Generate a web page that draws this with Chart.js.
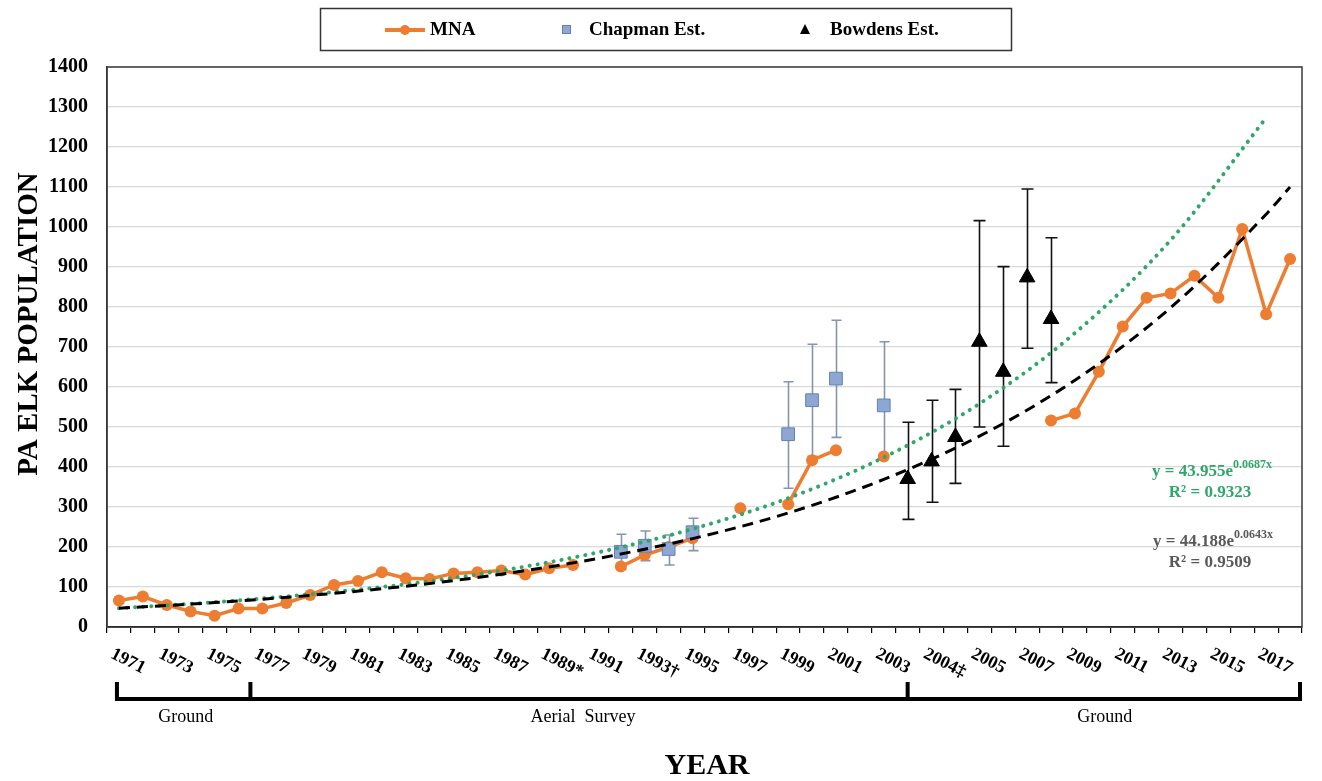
<!DOCTYPE html>
<html>
<head>
<meta charset="utf-8">
<script src="https://cdn.jsdelivr.net/npm/chart.js@4.4.1/dist/chart.umd.min.js"></script>
<style>
  html, body { margin: 0; padding: 0; background: #fff; }
  #wrap { width: 1322px; height: 781px; }
</style>
</head>
<body>
<div id="wrap"><canvas id="elkChart" width="1322" height="781"></canvas></div>
<script>
// labels shown under every other category
const yearLabels = ['1971', '1973', '1975', '1977', '1979', '1981', '1983', '1985', '1987', '1989*',
  '1991', '1993\u2020', '1995', '1997', '1999', '2001', '2003', '2004\u2021', '2005', '2007',
  '2009', '2011', '2013', '2015', '2017'];

// MNA, one value per category (null = no count)
const mna = [66, 76, 55, 39, 28, 46, 46, 60, 80, 105,
  115, 137, 122, 120, 134, 137, 141, 131, 147, 155,
  null, 151, 180, 200, 222, null, 297, null, 307, 417,
  442, null, 426, null, null, null, null, null, null, 516,
  534, 638, 751, 823, 834, 878, 823, 995, 782, 920];

const chapIdx = [21, 22, 23, 24, 28, 29, 30, 32];
const chapEst = [188, 203, 195, 237, 482, 567, 621, 554];
const chapLow = [144, 166, 155, 191, 347, 427, 474, 430];
const chapHigh = [232, 240, 230, 272, 613, 707, 767, 713];

const bowIdx = [33, 34, 35, 36, 37, 38, 39];
const bowEst = [370, 414, 475, 713, 638, 874, 770];
const bowLow = [269, 312, 359, 500, 452, 697, 611];
const bowHigh = [512, 567, 594, 1016, 901, 1095, 973];

// trend lines read at every 4th category
const trendIdx = [0, 4, 8, 12, 16, 20, 24, 28, 32, 36, 40, 44, 48];
const greenTrend = [47, 62, 82, 107, 141, 186, 245, 322, 424, 558, 735, 967, 1273];
const blackTrendIdx = [0, 4, 8, 12, 16, 20, 24, 28, 32, 36, 40, 44, 48, 49];
const blackTrend = [47, 61, 79, 102, 132, 171, 221, 285, 369, 477, 617, 798, 1032, 1100];

const yTicks = { min: 0, max: 1400, step: 100 };

const SERIF = '"Liberation Serif", "Times New Roman", serif';
const ORANGE = '#ED7D31';
const GREEN = '#2FA66A';

const cats = [];
yearLabels.forEach(l => { cats.push(l); cats.push(''); });

const spread = (idx, vals) => {
  const out = new Array(cats.length).fill(null);
  idx.forEach((k, j) => { out[k] = vals[j]; });
  return out;
};
const pts = (idx, vals) => idx.map((k, j) => ({ x: k, y: vals[j] }));

const errorBars = (chart, idx, low, high, color, cap) => {
  const { ctx } = chart;
  const xs = chart.scales.x, ys = chart.scales.y;
  ctx.save();
  ctx.strokeStyle = color;
  ctx.lineWidth = 1.6;
  idx.forEach((k, j) => {
    const x = Math.round(xs.getPixelForValue(k)) + 0.5;
    const y1 = ys.getPixelForValue(low[j]), y2 = ys.getPixelForValue(high[j]);
    ctx.beginPath();
    ctx.moveTo(x, y1); ctx.lineTo(x, y2);
    ctx.moveTo(x - cap, y1); ctx.lineTo(x + cap, y1);
    ctx.moveTo(x - cap, y2); ctx.lineTo(x + cap, y2);
    ctx.stroke();
  });
  ctx.restore();
};

const supText = (ctx, base, sup, cx, y, color) => {
  ctx.font = 'bold 17px ' + SERIF;
  const w1 = ctx.measureText(base).width;
  ctx.font = 'bold 12px ' + SERIF;
  const w2 = ctx.measureText(sup).width;
  const x0 = cx - (w1 + w2) / 2;
  ctx.fillStyle = color;
  ctx.textAlign = 'left';
  ctx.textBaseline = 'alphabetic';
  ctx.font = 'bold 17px ' + SERIF;
  ctx.fillText(base, x0, y);
  ctx.font = 'bold 12px ' + SERIF;
  ctx.fillText(sup, x0 + w1, y - 8);
};

const overlay = {
  id: 'overlay',
  beforeDatasetsDraw(chart) {
    errorBars(chart, chapIdx, chapLow, chapHigh, '#8595AD', 5);
    errorBars(chart, bowIdx, bowLow, bowHigh, '#111', 6);
  },
  afterDraw(chart) {
    const { ctx, chartArea: a } = chart;
    const xs = chart.scales.x;
    ctx.save();

    // plot border
    ctx.strokeStyle = '#3a3a3a';
    ctx.lineWidth = 1.5;
    ctx.strokeRect(a.left, a.top, a.right - a.left, a.bottom - a.top);

    // rotated year labels
    ctx.fillStyle = '#000';
    ctx.font = 'bold 18px ' + SERIF;
    ctx.textAlign = 'left';
    ctx.textBaseline = 'middle';
    yearLabels.forEach((t, j) => {
      const x = xs.getPixelForValue(j * 2) - 7;
      ctx.save();
      ctx.translate(x, 653);
      ctx.rotate(27 * Math.PI / 180);
      ctx.fillText(t, 0, 0);
      ctx.restore();
    });

    // survey method brackets
    const bx = [xs.getPixelForValue(0) - 2,
      (xs.getPixelForValue(5) + xs.getPixelForValue(6)) / 2,
      xs.getPixelForValue(33),
      a.right - 2];
    ctx.strokeStyle = '#000';
    ctx.lineWidth = 4;
    ctx.beginPath();
    ctx.moveTo(bx[0], 699); ctx.lineTo(bx[3], 699);
    bx.forEach(x => { ctx.moveTo(x, 682); ctx.lineTo(x, 701); });
    ctx.stroke();
    ctx.font = '18px ' + SERIF;
    ctx.textAlign = 'center';
    ctx.fillText('Ground', (bx[0] + bx[1]) / 2 + 2, 717);
    ctx.fillText('Aerial  Survey', (bx[1] + bx[2]) / 2 + 4, 717);
    ctx.fillText('Ground', (bx[2] + bx[3]) / 2 + 1, 717);

    // axis titles
    ctx.font = 'bold 30px ' + SERIF;
    ctx.fillText('YEAR', 707, 766);
    ctx.save();
    ctx.translate(30, 324);
    ctx.rotate(-Math.PI / 2);
    ctx.font = 'bold 29px ' + SERIF;
    ctx.fillText('PA ELK POPULATION', 0, 0);
    ctx.restore();

    // trend equations
    supText(ctx, 'y = 43.955e', '0.0687x', 1212, 476, GREEN);
    ctx.font = 'bold 17px ' + SERIF;
    ctx.textAlign = 'center';
    ctx.fillText('R\u00b2 = 0.9323', 1210, 497);
    supText(ctx, 'y = 44.188e', '0.0643x', 1213, 546, '#595959');
    ctx.font = 'bold 17px ' + SERIF;
    ctx.textAlign = 'center';
    ctx.fillText('R\u00b2 = 0.9509', 1210, 567);

    // legend
    ctx.strokeStyle = '#333';
    ctx.lineWidth = 1.5;
    ctx.strokeRect(320.5, 8.5, 691, 42);
    ctx.strokeStyle = ORANGE;
    ctx.lineWidth = 4;
    ctx.beginPath(); ctx.moveTo(385, 30); ctx.lineTo(425, 30); ctx.stroke();
    ctx.fillStyle = ORANGE;
    ctx.beginPath(); ctx.arc(405, 30, 5, 0, Math.PI * 2); ctx.fill();
    ctx.fillStyle = '#8EA6D2';
    ctx.strokeStyle = '#6381B8';
    ctx.lineWidth = 1;
    ctx.fillRect(562, 25, 9, 9);
    ctx.strokeRect(562.5, 25.5, 8, 8);
    ctx.fillStyle = '#000';
    ctx.beginPath(); ctx.moveTo(805, 24); ctx.lineTo(810, 34); ctx.lineTo(800, 34); ctx.closePath(); ctx.fill();
    ctx.font = 'bold 19px ' + SERIF;
    ctx.textAlign = 'left';
    ctx.textBaseline = 'middle';
    ctx.fillText('MNA', 430, 30);
    ctx.fillText('Chapman Est.', 589, 30);
    ctx.fillText('Bowdens Est.', 830, 30);

    ctx.restore();
  }
};

new Chart(document.getElementById('elkChart'), {
  type: 'line',
  data: {
    labels: cats,
    datasets: [
      {
        label: 'MNA',
        data: mna,
        borderColor: ORANGE,
        backgroundColor: ORANGE,
        borderWidth: 3.5,
        pointRadius: 6,
        pointBorderWidth: 0,
        spanGaps: false,
        tension: 0,
        order: 4
      },
      {
        label: 'Chapman Est.',
        data: spread(chapIdx, chapEst),
        showLine: false,
        pointStyle: 'rect',
        pointRadius: 9,
        backgroundColor: '#8EA6D2',
        borderColor: '#6381B8',
        borderWidth: 1,
        order: 3
      },
      {
        label: 'Bowdens Est.',
        data: spread(bowIdx, bowEst),
        showLine: false,
        pointStyle: 'triangle',
        pointRadius: 9,
        backgroundColor: '#000',
        borderColor: '#000',
        borderWidth: 1,
        order: 2
      },
      {
        label: 'Expon. (Chapman/Bowdens)',
        xAxisID: 'xt',
        data: pts(trendIdx, greenTrend),
        borderColor: GREEN,
        borderWidth: 4,
        borderDash: [0.1, 8],
        borderCapStyle: 'round',
        pointRadius: 0,
        cubicInterpolationMode: 'monotone',
        order: 1
      },
      {
        label: 'Expon. (MNA)',
        xAxisID: 'xt',
        data: pts(blackTrendIdx, blackTrend),
        borderColor: '#000',
        borderWidth: 3,
        borderDash: [11, 7],
        pointRadius: 0,
        cubicInterpolationMode: 'monotone',
        order: 0
      }
    ]
  },
  options: {
    responsive: false,
    animation: false,
    layout: { padding: { top: 67, right: 20, left: 0, bottom: 0 } },
    plugins: { legend: { display: false }, tooltip: { enabled: false } },
    scales: {
      x: {
        type: 'category',
        offset: true,
        afterFit: s => { s.height = 154; },
        grid: { offset: true, drawOnChartArea: false, drawTicks: true, tickLength: 6, color: '#000', lineWidth: 1.2 },
        border: { display: true, color: '#000', width: 1.5 },
        ticks: { display: false }
      },
      xt: {
        type: 'linear',
        display: false,
        min: -0.5,
        max: cats.length - 0.5
      },
      y: {
        min: yTicks.min,
        max: yTicks.max,
        afterFit: s => { s.width = 107; },
        grid: { color: '#D9D9D9', lineWidth: 1.2, drawTicks: false },
        border: { display: true, color: '#3a3a3a', width: 1.5 },
        ticks: {
          stepSize: yTicks.step,
          padding: 19,
          color: '#000',
          callback: v => String(v),
          font: { family: SERIF, size: 20, weight: 'bold' }
        }
      }
    }
  },
  plugins: [overlay]
});
</script>
</body>
</html>
